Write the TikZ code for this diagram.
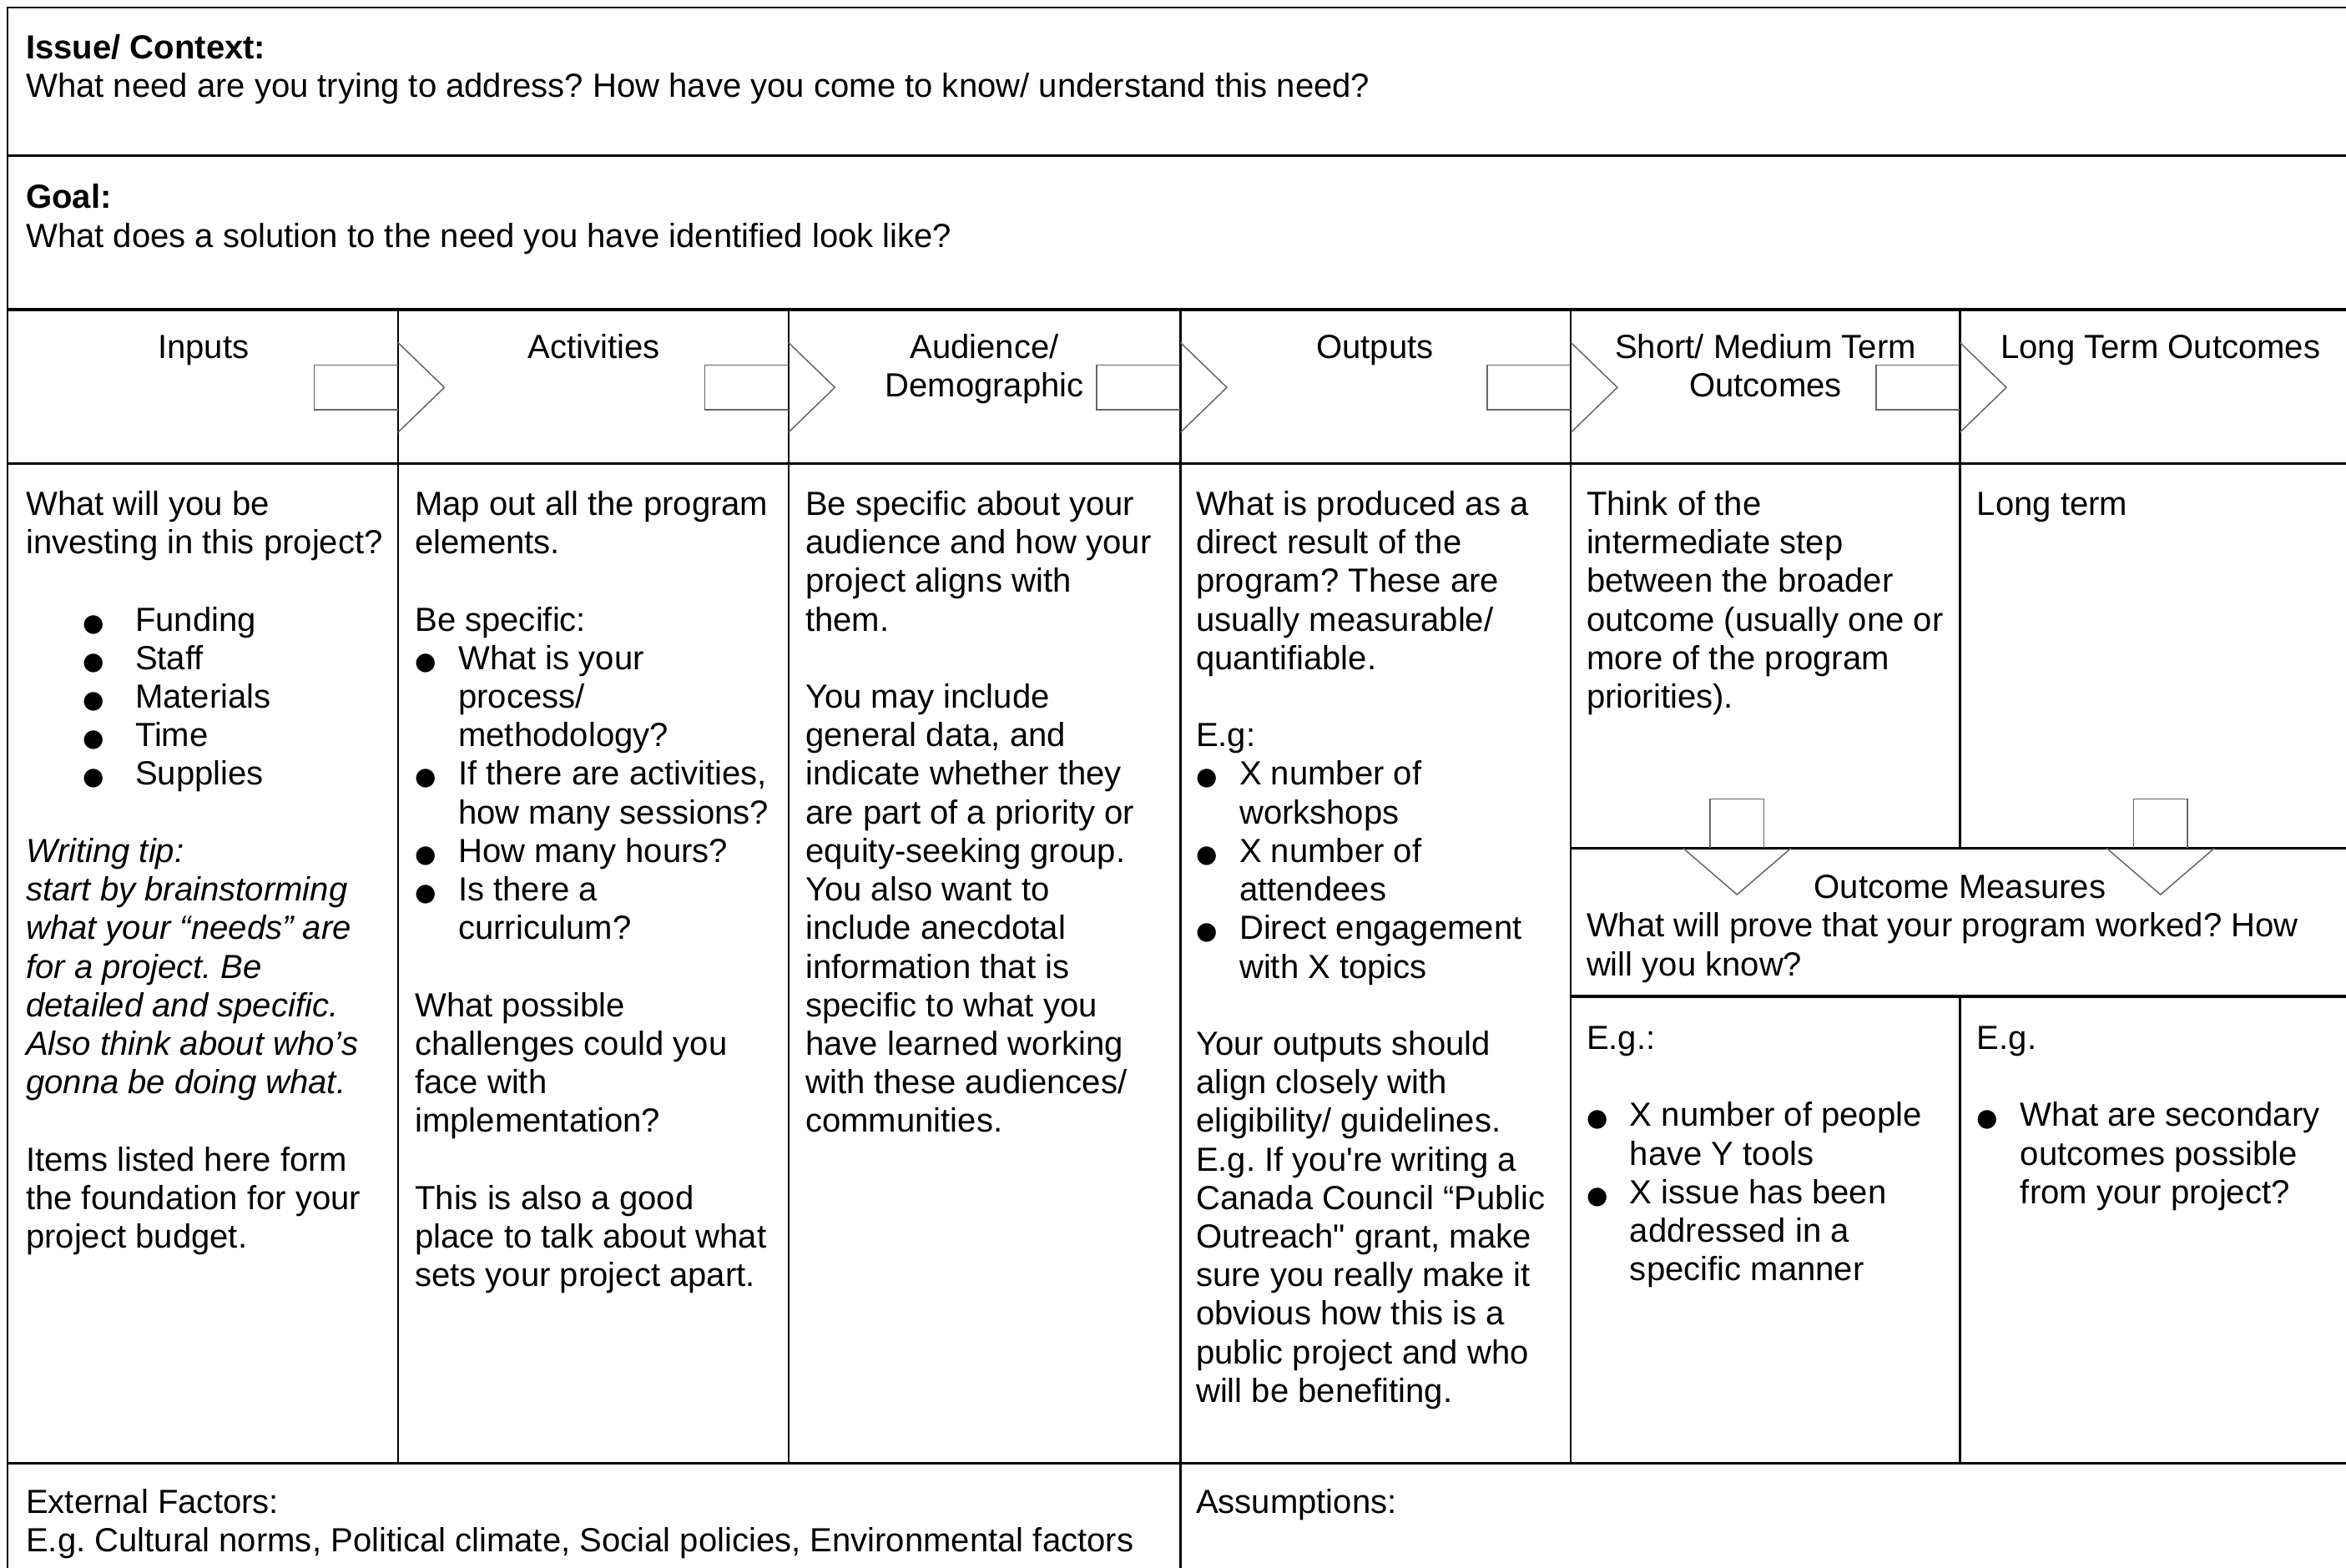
\documentclass[tikz,border=0pt]{standalone}
\usepackage{fontspec}
\setmainfont{Liberation Sans}
\newfontfamily\symfont{DejaVu Sans}
\usepackage{tikz}
\usetikzlibrary{positioning}

\newlength\pxu
\setlength\pxu{0.17927mm}
\newlength\blankln
\setlength\blankln{13.15pt}
\newcommand\topstrut{\rule{0pt}{10pt}}
\newcommand\dotglyph{{\symfont\fontsize{8.3}{8.3}\selectfont ●}}
\newcommand\bul{\makebox[29\pxu][l]{\dotglyph}}
\newcommand\ind{\hspace*{29\pxu}}
\newcommand\widebul{\hspace*{38\pxu}\makebox[35\pxu][l]{\dotglyph}}
\frenchspacing

\begin{document}
\begin{tikzpicture}[x=0.17927mm, y=-0.17927mm,
  thinline/.style = {line width=0.22mm},
  thickline/.style = {line width=0.35mm},
  blockarrow/.style = {draw=black!60, line width=0.15mm},
  every node/.style = {inner sep=0pt, font=\fontsize{11.4}{13.15}\selectfont},
  celltext/.style = {anchor=north west, align=left, yshift=10pt},
  headtext/.style = {anchor=north, align=center, yshift=10pt}]
    \useasboundingbox (0,0) rectangle (1568,1048);
    \clip (0,0) rectangle (1568,1048);

    % frame
    \draw[thinline] (5,1048) -- (5,5) -- (1568,5);
    \draw[thinline] (5,104) -- (1568,104);
    \draw[thickline] (5,207) -- (1568,207);
    \draw[thickline] (5,310) -- (1568,310);
    \draw[thickline] (5,978) -- (1568,978);
    \draw[thickline] (1050,567) -- (1568,567);
    \draw[thickline] (1050,666) -- (1568,666);
    \foreach \cx in {266,527,789,1050}
      \draw[thinline] (\cx,207) -- (\cx,978);
    \draw[thinline] (1310,207) -- (1310,567);
    \draw[thinline] (1310,666) -- (1310,978);
    \draw[thinline] (789,978) -- (789,1048);

    % block arrows
    \foreach \cx in {266,527,789,1050,1310} {
      \draw[blockarrow] (\cx,244) -- (\cx-56,244) -- (\cx-56,274) -- (\cx,274);
      \draw[blockarrow] (\cx,229) -- (\cx+31,259) -- (\cx,289);
    }
    \foreach \cx in {1161,1444} {
      \draw[blockarrow] (\cx-18,567) -- (\cx-18,534) -- (\cx+18,534) -- (\cx+18,567);
      \draw[blockarrow] (\cx-36,567) -- (\cx,598) -- (\cx+36,567);
    }

    \node[celltext] (issue) at (17,39) {\topstrut\textbf{Issue/ Context:}\\
      What need are you trying to address? How have you come to know/ understand this need?};
    \node[celltext] (goal) at (17,139) {\topstrut\textbf{Goal:}\\
      What does a solution to the need you have identified look like?};

    \node[headtext] (inputs) at (136,239) {\topstrut Inputs};
    \node[headtext] (activities) at (397,239) {\topstrut Activities};
    \node[headtext] (audience) at (658,239) {\topstrut Audience/\\Demographic};
    \node[headtext] (outputs) at (919,239) {\topstrut Outputs};
    \node[headtext] (shortterm) at (1180,239) {\topstrut Short/ Medium Term\\Outcomes};
    \node[headtext] (longterm) at (1444,239) {\topstrut Long Term Outcomes};

    \node[celltext] (inputstext) at (17,344) {\topstrut What will you be\\
      investing in this project?\\[\blankln]
      \widebul Funding\\\widebul Staff\\\widebul Materials\\\widebul Time\\\widebul Supplies\\[\blankln]
      \itshape Writing tip:\\\itshape start by brainstorming\\\itshape what your “needs” are\\
      \itshape for a project. Be\\\itshape detailed and specific.\\\itshape Also think about who’s\\
      \itshape gonna be doing what.\\[\blankln]
      Items listed here form\\the foundation for your\\project budget.};
    \node[celltext] (activitiestext) at (277,344) {\topstrut Map out all the program\\
      elements.\\[\blankln]
      Be specific:\\\bul What is your\\\ind process/\\\ind methodology?\\
      \bul If there are activities,\\\ind how many sessions?\\\bul How many hours?\\
      \bul Is there a\\\ind curriculum?\\[\blankln]
      What possible\\challenges could you\\face with\\implementation?\\[\blankln]
      This is also a good\\place to talk about what\\sets your project apart.};
    \node[celltext] (audiencetext) at (538,344) {\topstrut Be specific about your\\
      audience and how your\\project aligns with\\them.\\[\blankln]
      You may include\\general data, and\\indicate whether they\\are part of a priority or\\
      equity-seeking group.\\You also want to\\include anecdotal\\information that is\\
      specific to what you\\have learned working\\with these audiences/\\communities.};
    \node[celltext] (outputstext) at (799,344) {\topstrut What is produced as a\\
      direct result of the\\program? These are\\usually measurable/\\quantifiable.\\[\blankln]
      E.g:\\\bul X number of\\\ind workshops\\\bul X number of\\\ind attendees\\
      \bul Direct engagement\\\ind with X topics\\[\blankln]
      Your outputs should\\align closely with\\eligibility/ guidelines.\\
      E.g. If you\textquotesingle re writing a\\Canada Council “Public\\Outreach\textquotedbl{} grant, make\\
      sure you really make it\\obvious how this is a\\public project and who\\will be benefiting.};
    \node[celltext] (shorttext) at (1060,344) {\topstrut Think of the\\intermediate step\\
      between the broader\\outcome (usually one or\\more of the program\\priorities).};
    \node[celltext] (longtext) at (1321,344) {\topstrut Long term};

    \node[headtext] (measures) at (1310,600) {\topstrut Outcome Measures};
    \node[celltext] (measurestext) at (1060,626) {\topstrut What will prove that your program worked? How\\
      will you know?};
    \node[celltext] (shorteg) at (1060,701) {\topstrut E.g.:\\[\blankln]
      \bul X number of people\\\ind have Y tools\\\bul X issue has been\\\ind addressed in a\\\ind specific manner};
    \node[celltext] (longeg) at (1321,701) {\topstrut E.g.\\[\blankln]
      \bul What are secondary\\\ind outcomes possible\\\ind from your project?};

    \node[celltext] (external) at (17,1011) {\topstrut External Factors:\\
      E.g. Cultural norms, Political climate, Social policies, Environmental factors};
    \node[celltext] (assumptions) at (799,1011) {\topstrut Assumptions:};
\end{tikzpicture}
\end{document}
